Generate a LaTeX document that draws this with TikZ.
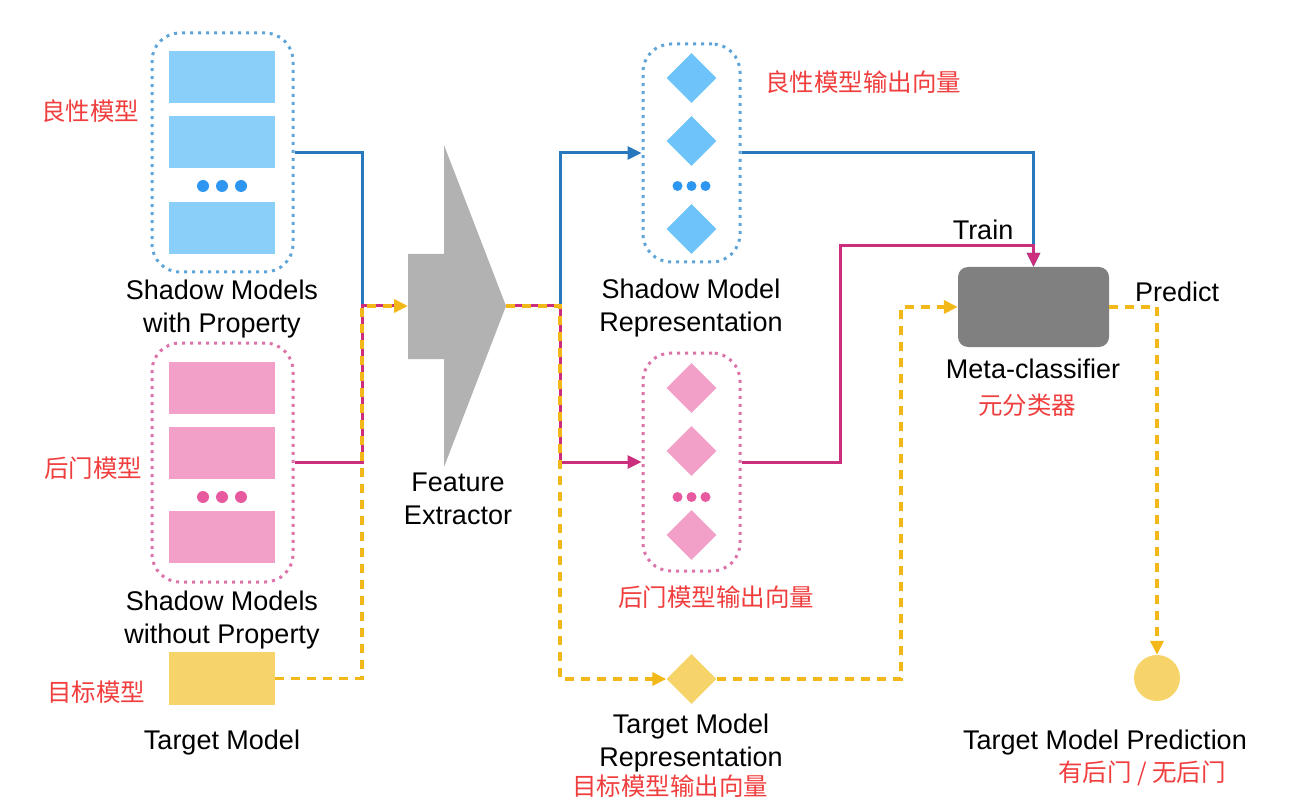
\documentclass[tikz,border=0pt]{standalone}
\usepackage{fontspec}
\setmainfont{Liberation Sans}
\newfontfamily\cjk{Noto Sans CJK SC}
\usepackage{tikz}
\usetikzlibrary{arrows.meta,shapes.geometric,positioning}

\definecolor{boxblue}{RGB}{137,207,250}
\definecolor{dotblue}{RGB}{95,165,215}
\definecolor{ballblue}{RGB}{45,150,240}
\definecolor{diablue}{RGB}{110,195,250}
\definecolor{boxpink}{RGB}{242,160,200}
\definecolor{dotpink}{RGB}{220,115,170}
\definecolor{ballpink}{RGB}{232,90,160}
\definecolor{lineblue}{RGB}{40,120,190}
\definecolor{linemag}{RGB}{205,45,125}
\definecolor{lineyel}{RGB}{242,183,25}
\definecolor{fillyel}{RGB}{246,212,106}
\definecolor{fegray}{RGB}{178,178,178}
\definecolor{metagray}{RGB}{128,128,128}
\definecolor{cnred}{RGB}{240,62,62}

\begin{document}
\begin{tikzpicture}[x=1pt,y=-1pt,
    every node/.style={font=\fontsize{27}{33}\selectfont},
    group/.style={draw,rounded corners=28pt,line width=3pt,dash pattern=on 3pt off 5pt,
        minimum width=141pt,minimum height=239pt,inner sep=0},
    layer/.style={draw=none,minimum width=106pt,minimum height=52pt,inner sep=0},
    vec/.style={diamond,draw=none,minimum width=50pt,minimum height=50pt,inner sep=0},
    ball/.style={circle,draw=none,inner sep=0,minimum size=12pt},
    txt/.style={align=center,inner sep=0},
    cn/.style={text=cnred,font=\cjk\fontsize{24.5}{28}\selectfont,inner sep=0},
    arr/.style={-{Triangle[length=14pt,width=13pt]}},
    bline/.style={draw=lineblue,line width=3pt},
    mline/.style={draw=linemag,line width=3pt},
    yline/.style={draw=lineyel,line width=3.8pt,dash pattern=on 9pt off 7pt}]
\useasboundingbox (0,0) rectangle (1316,799);

% shadow models
\node[group,draw=dotblue] (shadow_p) at (222.5,152.5) {};
\node[layer,fill=boxblue] (sp_1) at (222,77) {};
\node[layer,fill=boxblue] (sp_2) at (222,142) {};
\node[layer,fill=boxblue] (sp_3) at (222,228.5) {};
\foreach \i/\dx in {1/-19,2/0,3/19}
    \node[ball,fill=ballblue] (sp_d\i) at ({222+\dx},186) {};

\node[group,draw=dotpink] (shadow_n) at (222.5,462.5) {};
\node[layer,fill=boxpink] (sn_1) at (222,388) {};
\node[layer,fill=boxpink] (sn_2) at (222,453) {};
\node[layer,fill=boxpink] (sn_3) at (222,536.5) {};
\foreach \i/\dx in {1/-19,2/0,3/19}
    \node[ball,fill=ballpink] (sn_d\i) at ({222+\dx},497) {};

\node[layer,fill=fillyel,minimum height=53pt] (target) at (222,678.5) {};

% feature extractor
\fill[fegray] (408,254) -- (444,254) -- (444,145) -- (506,306)
    -- (444,467) -- (444,359) -- (408,359) -- cycle;
\coordinate (fe_in) at (408,306);
\coordinate (fe_out) at (506,306);
\coordinate (jl) at (362,306);
\coordinate (jr) at (560,306);

% representations
\node[group,draw=dotblue,minimum width=97pt,minimum height=218pt] (repr_p) at (691.5,153) {};
\node[vec,fill=diablue] (rp_1) at (691.5,78) {};
\node[vec,fill=diablue] (rp_2) at (691.5,141) {};
\node[vec,fill=diablue] (rp_3) at (691.5,229) {};
\foreach \i/\dx in {1/-14,2/0,3/14}
    \node[ball,fill=ballblue,minimum size=10pt] (rp_d\i) at ({691.5+\dx},186) {};

\node[group,draw=dotpink,minimum width=97pt,minimum height=218pt] (repr_n) at (691.5,462) {};
\node[vec,fill=boxpink] (rn_1) at (691.5,388) {};
\node[vec,fill=boxpink] (rn_2) at (691.5,451) {};
\node[vec,fill=boxpink] (rn_3) at (691.5,535) {};
\foreach \i/\dx in {1/-14,2/0,3/14}
    \node[ball,fill=ballpink,minimum size=10pt] (rn_d\i) at ({691.5+\dx},497) {};

\node[vec,fill=fillyel] (target_rep) at (691.5,679) {};

% meta-classifier and prediction
\node[draw=none,fill=metagray,rounded corners=10pt,minimum width=151pt,
    minimum height=80pt,inner sep=0] (meta) at (1033.5,307) {};
\node[circle,fill=fillyel,minimum size=46pt,inner sep=0] (pred) at (1157,678) {};
\coordinate (mk) at (840,246);
\coordinate (ym) at (901,307);

% connectors
\draw[bline] (shadow_p.east) -| (jl);
\draw[mline,shorten >=14pt] (shadow_n.east) -| (jl) -- (fe_in);
\draw[yline,arr] (target.east) -| (jl) -- (fe_in);

\draw[bline,arr] (fe_out) -- (jr) |- (repr_p.west);
\draw[mline,arr] (fe_out) -- (jr) |- (repr_n.west);
\draw[yline,arr] (fe_out) -- (jr) |- (target_rep.west);

\draw[bline,arr] (repr_p.east) -| (meta.north);
\draw[mline,arr] (repr_n.east) -| (mk) -| (meta.north);
\draw[yline,arr] (target_rep.east) -| (ym) -- (meta.west);
\draw[yline,arr] (meta.east) -| (pred.north);

% texts
\node[cn] (cn_good) at (90,111) {良性模型};
\node[cn] (cn_bd) at (93,468) {后门模型};
\node[cn] (cn_tgt) at (96,692) {目标模型};
\node[txt] (txt_sp) at (222,309) {Shadow Models\\with Property};
\node[txt] (txt_sn) at (222,620) {Shadow Models\\without Property};
\node[txt] (txt_t) at (222,743) {Target Model};
\node[txt] (txt_fe) at (458,499) {Feature\\Extractor};
\node[txt] (txt_rp) at (691,308) {Shadow Model\\Representation};
\node[cn] (cn_rp) at (863,82) {良性模型输出向量};
\node[cn] (cn_rn) at (716,597) {后门模型输出向量};
\node[txt] (txt_tr) at (691,743) {Target Model\\Representation};
\node[cn] (cn_tr) at (670,786) {目标模型输出向量};
\node[txt] (lbl_train) at (983,230) {Train};
\node[txt] (lbl_pred) at (1177,292) {Predict};
\node[txt] (txt_meta) at (1033,369) {Meta-classifier};
\node[cn] (cn_meta) at (1027,405) {元分类器};
\node[txt] (txt_pred) at (1105,743) {Target Model Prediction};
\node[cn] (cn_pred) at (1142,773) {有后门 / 无后门};
\end{tikzpicture}
\end{document}
